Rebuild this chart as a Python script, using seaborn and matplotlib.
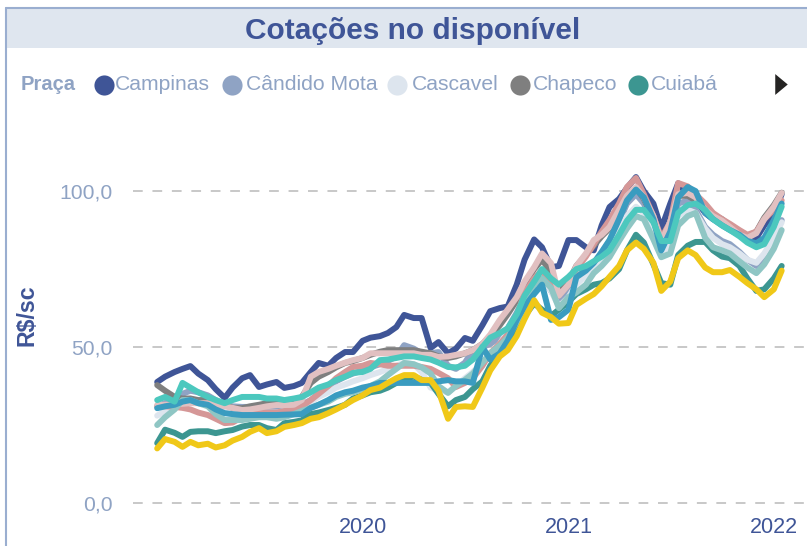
import pandas as pd
import numpy as np
import matplotlib
matplotlib.use("Agg")
import matplotlib.pyplot as plt
from matplotlib.lines import Line2D
from matplotlib.patches import Rectangle
import seaborn as sb

sb.set_theme(style="white")
plt.rcParams["font.family"] = ["Liberation Sans", "DejaVu Sans"]

# semi-monthly dates, Jan 2019 -> Jan 2022
dates = pd.date_range("2019-01-01", "2022-01-15", freq="SMS")

campinas = [38.8, 40.5, 42, 43, 43.9, 41.5, 39.4, 36.5, 33.7, 37,
            40, 41, 37.2, 38, 38.8, 36.9, 37.5, 38.5, 42, 44.9,
            44, 46.5, 48.4, 48.4, 52, 53, 53.5, 54.5, 56.4, 60.3,
            59.3, 59.3, 49.7, 51.6, 48, 49.5, 52.9, 52, 57, 61.5,
            62.5, 63, 70, 78, 84.5, 82, 75.6, 76, 84.3, 84.3,
            82, 81, 89, 94.9, 97.5, 101, 104.5, 100, 96, 88,
            96, 102.5, 99, 97, 93, 91, 90, 88.5, 86.5, 84,
            85, 89, 93, 99]
candido_mota = [31, 32, 34, 35, 36, 35.5, 34.5, 33, 31.5, 31,
                30.8, 30.8, 30.8, 30.8, 30.8, 31, 31, 31.5, 33, 35,
                37, 39, 40.5, 41.5, 42.5, 43.5, 44.5, 45.5, 47, 50.6,
                49.5, 48, 48, 48.4, 44, 43, 45, 49, 50, 51,
                53, 56, 61, 66, 70, 72, 68, 64, 68, 72,
                75, 76.9, 80, 84, 90, 96, 99, 96, 89, 82,
                86, 96, 97, 94, 88.5, 86, 84, 83, 80.5, 78,
                76, 79, 85, 90.7]
cascavel = [28, 29.5, 31, 32.5, 33.5, 32.5, 31.5, 30, 29, 28.5,
            28.5, 29, 29, 29, 29, 29.5, 30, 31, 32.5, 34,
            35.5, 37, 38, 39, 40, 41, 42, 43, 44, 45,
            44.5, 42, 37, 36, 35.5, 37.5, 40, 42, 45, 48,
            51, 55, 60, 65, 70, 72, 68, 63, 66, 70,
            73, 75, 78, 81, 87, 92, 95, 93, 87, 80,
            83, 92, 94, 93, 88, 85, 83, 82, 80, 78,
            77, 80, 85, 90]
chapeco = [37.8, 36, 34, 33.5, 33.5, 33, 33, 32.5, 31.5, 30.5,
           30.4, 31, 31.5, 32, 32, 32, 32, 34, 38.5, 40.5,
           42, 43.5, 44.9, 45.5, 46.5, 47.5, 48.5, 49, 49, 49,
           49, 48.5, 48, 47, 46.5, 47, 48, 49, 51, 53.5,
           57, 60.5, 65, 70, 75, 78, 74, 68, 71, 76,
           79.5, 82.5, 85.5, 88, 93.5, 98, 101, 97.5, 91, 84,
           90, 98.5, 98.5, 97, 94, 92.5, 91, 89, 87, 85.5,
           87, 91.5, 95.5, 99.5]
cuiaba = [19.2, 23.5, 22.5, 21.2, 22.8, 23, 23, 22.4, 23, 23.4,
          24.5, 25, 25, 24, 23.4, 25.6, 26, 26.5, 28.5, 29,
          29.8, 30.5, 31.5, 33.5, 34.5, 35.5, 36, 37, 38.5, 40,
          40.5, 39.5, 38.5, 35, 31, 33, 34, 36.5, 39, 44,
          48, 50, 55, 60, 64, 62, 60, 62, 64.5, 67,
          68.5, 70, 70.5, 72, 75, 81, 86, 83.5, 76.5, 70.5,
          70, 79.5, 82.5, 83.7, 83.7, 81, 79, 78.5, 76, 72,
          68, 68.5, 72, 76]
dourados = [31, 31, 30.8, 30.5, 30, 29, 28.2, 27, 25.6, 25.8,
            27.5, 28.8, 29.2, 29, 29, 29.5, 29.8, 31, 33, 35,
            37.5, 40, 42, 43.6, 44, 44.9, 44.5, 44, 44, 44,
            44, 43.6, 43, 41.7, 40, 37.2, 38.5, 40, 44, 48,
            51, 54, 60, 67.3, 72, 74.7, 70, 66.5, 70, 75,
            79, 83, 87, 90.7, 96, 101.3, 104.2, 99, 92, 85,
            90, 102.6, 101.5, 99, 96, 93, 91, 89.5, 87.5, 86,
            87, 91, 94, 97]
londrina = [31.4, 31.5, 31.6, 31.8, 32, 32, 32, 31.5, 31, 30.5,
            29.8, 30, 30.5, 31, 31.4, 31.4, 31.5, 33, 40.5, 42,
            43, 44, 45, 45.8, 46.5, 48, 48, 48, 48, 48,
            48, 47.5, 47.5, 46.8, 47, 47.5, 48, 49, 51, 54,
            58.7, 62, 66, 71, 75.6, 80, 76.9, 66.5, 70, 76,
            80, 84.3, 86, 88.5, 94, 98.5, 101.3, 98, 92, 84,
            90, 99, 99.4, 98, 94, 92, 90.5, 88.5, 86, 85,
            86.5, 91, 95, 99.4]
maringa = [25, 27.5, 30, 33, 33, 32, 31, 28.5, 26.6, 26.6,
           26.6, 27, 27.5, 27.5, 27, 27.5, 28.5, 29.5, 30.5, 31.5,
           32.5, 34, 35, 35.5, 36.5, 37.5, 39, 41, 43, 44.9,
           44.5, 43.5, 41.5, 37.5, 35.3, 37.5, 39.5, 41.5, 45, 48,
           50.5, 53, 58, 62.8, 70, 72, 69, 62.5, 66, 67.5,
           70, 73.7, 76, 78.8, 84, 88, 92, 91, 84.5, 78.8,
           80, 89, 92, 93, 85, 82, 81, 80, 77.5, 75.5,
           73.7, 76.5, 81.5, 87.5]
passo_fundo = [30.4, 31, 31.5, 32.5, 33, 32, 31.5, 30, 28.8, 28.5,
               28.2, 28.2, 28.2, 28.2, 28.2, 28.3, 28.4, 28.5, 30.5, 31.5,
               33, 34.5, 35.5, 36, 37, 37.5, 38.5, 38.5, 38.5, 38.5,
               38.5, 38.5, 38.5, 39, 39.4, 39, 39, 38.5, 50, 46,
               48, 52, 58.7, 63, 67, 70, 58.7, 59.6, 62, 72.4,
               74.5, 77, 80.5, 84.3, 91, 97, 100.5, 98, 91, 81,
               87, 98, 101.3, 100, 93, 91, 89, 87.5, 86, 84,
               83.3, 85, 90.7, 96]
rio_verde = [33, 34, 32.5, 38.5, 37, 35.5, 34, 33, 32, 33,
             34, 34, 34, 33.5, 33.5, 33, 33.5, 34, 35.5, 37,
             38, 39.4, 40.5, 41.7, 42, 43, 45.8, 46, 46.5, 47,
             47, 46.5, 46, 45, 43.6, 43.5, 44, 46, 50, 53,
             54.5, 56, 60.5, 66.5, 71, 75, 72, 70, 72.5, 75,
             76, 77.5, 79, 81, 86, 90.5, 94, 94, 90, 84,
             84, 93, 95.5, 96, 94, 91, 89, 87.5, 85.5, 83.5,
             82, 83, 88.5, 95]
sorriso = [17.5, 20.5, 19.6, 18, 19.6, 18.5, 19, 17.8, 18.5, 20,
           21.2, 22.8, 24, 22.4, 23, 24.4, 25, 25.6, 27, 27.5,
           28.8, 30, 31.5, 33, 34.5, 36.2, 37, 38.5, 40, 41,
           41, 39.4, 39.4, 36, 27, 30.8, 31, 30.8, 37, 42.5,
           47, 49, 53.5, 59, 65, 61, 59.6, 57.5, 57.7, 63.5,
           65.5, 67, 69.5, 72.5, 76, 81, 83.5, 81.5, 77, 68,
           71, 78.5, 81, 79.5, 75.5, 74, 74, 74.7, 72.5, 70.5,
           68.5, 66, 68.5, 74.5]

pracas = ["Campinas", "Cândido Mota", "Cascavel", "Chapeco", "Cuiabá",
          "Dourados", "Londrina", "Maringá", "Passo Fundo", "Rio Verde", "Sorriso"]
series = [campinas, candido_mota, cascavel, chapeco, cuiaba,
          dourados, londrina, maringa, passo_fundo, rio_verde, sorriso]
colors = ["#3F5597", "#8FA3C4", "#DDE5EE", "#7F7F7F", "#3C9691",
          "#D59797", "#E1C0C1", "#8FC6C4", "#3A9CC0", "#4CC8BE", "#F0C818"]

df = pd.concat([pd.DataFrame({"data": dates, "valor": v, "praca": p})
                for p, v in zip(pracas, series)], ignore_index=True)

W, H = 807, 546
fx = lambda px: px / W
fy = lambda py: 1 - py / H

fig = plt.figure(figsize=(W / 100, H / 100), dpi=100)
ax = fig.add_axes([fx(133), fy(515), 1 - fx(133), fy(120) - fy(515)])

sb.lineplot(data=df, x="data", y="valor", hue="praca", hue_order=pracas,
            palette=dict(zip(pracas, colors)), linewidth=4.3, legend=False,
            ax=ax, solid_capstyle="round", solid_joinstyle="round")

ax.set_xlim(pd.Timestamp("2018-11-19"), pd.Timestamp("2022-03-01"))
ax.set_ylim(-3.85, 122.8)
ax.set_yticks([0, 50, 100])
ax.set_yticklabels(["0,0", "50,0", "100,0"])
ax.set_xticks([pd.Timestamp("2020-01-01"), pd.Timestamp("2021-01-01"), pd.Timestamp("2022-01-01")])
ax.set_xticklabels(["2020", "2021", "2022"])
ax.tick_params(axis="y", length=0, pad=14.4, labelsize=15.2, labelcolor="#8FA3C4")
ax.tick_params(axis="x", length=0, pad=1.5, labelsize=15.5, labelcolor="#3F5597")
ax.set_xlabel("")
ax.set_ylabel("")
for s in ax.spines.values():
    s.set_visible(False)
ax.grid(False)
for yv in [0, 50, 100]:
    ax.axhline(yv, color="#C8C8C8", lw=1.4, linestyle=(0, (5, 5)), zorder=0)

# frame and header band
fig.add_artist(Rectangle((fx(7), fy(48)), 1 - fx(7), fy(9) - fy(48),
                         transform=fig.transFigure, facecolor="#DFE6EF",
                         edgecolor="none", zorder=0))
fig.add_artist(Line2D([fx(6.5), fx(6.5)], [0, fy(8)], color="#9AAED0", lw=1.5,
                      transform=fig.transFigure))
fig.add_artist(Line2D([fx(6.5), 1], [fy(8), fy(8)], color="#9AAED0", lw=1.5,
                      transform=fig.transFigure))
fig.text(fx(413), fy(31), "Cotações no disponível", ha="center", va="center",
         fontsize=21.5, fontweight="bold", color="#3F5597")

# legend row
fig.text(fx(21), fy(84), "Praça", ha="left", va="center", fontsize=14.5,
         fontweight="bold", color="#8FA3C4")
leg_pos = [(104, 115), (232, 246), (397, 412), (520, 533), (638, 651)]
for (cx, tx), name, c in zip(leg_pos, pracas[:5], colors[:5]):
    fig.add_artist(Line2D([fx(cx)], [fy(85)], marker="o", markersize=14.5, color=c,
                          markeredgewidth=0, transform=fig.transFigure))
    fig.text(fx(tx), fy(84), name, ha="left", va="center", fontsize=15.2,
             color="#8FA3C4")
fig.add_artist(Line2D([fx(781)], [fy(84)], marker=[(-0.6, -1), (0.6, 0), (-0.6, 1)],
                      markersize=15, color="#252423", markeredgewidth=0,
                      transform=fig.transFigure))

fig.text(fx(27), fy(315), "R$/sc", ha="center", va="center", rotation=90,
         fontsize=16.7, fontweight="bold", color="#3F5597")

fig.savefig("out.png", dpi=100)
